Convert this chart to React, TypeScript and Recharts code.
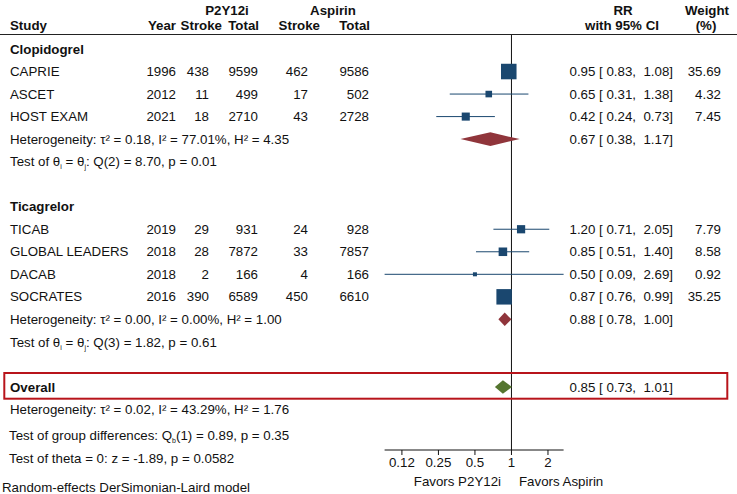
import React from "react";
import { ScatterChart, Scatter, XAxis, YAxis, ErrorBar, ReferenceLine } from "recharts";

// study level data
const STUDIES = ["CAPRIE", "ASCET", "HOST EXAM", "TICAB", "GLOBAL LEADERS", "DACAB", "SOCRATES"];
const GROUP_OF = [0, 0, 0, 1, 1, 1, 1];
const YEARS = [1996, 2012, 2021, 2019, 2018, 2018, 2016];
const P2Y12_STROKE = [438, 11, 18, 29, 28, 2, 390];
const P2Y12_TOTAL = [9599, 499, 2710, 931, 7872, 166, 6589];
const ASA_STROKE = [462, 17, 43, 24, 33, 4, 450];
const ASA_TOTAL = [9586, 502, 2728, 928, 7857, 166, 6610];
const RR = [0.95, 0.65, 0.42, 1.2, 0.85, 0.5, 0.87];
const RR_LO = [0.83, 0.31, 0.24, 0.71, 0.51, 0.09, 0.76];
const RR_HI = [1.08, 1.38, 0.73, 2.05, 1.4, 2.69, 0.99];
const WEIGHT = [35.69, 4.32, 7.45, 7.79, 8.58, 0.92, 35.25];

// subgroups
const GROUPS = ["Clopidogrel", "Ticagrelor"];
const GROUP_RR = [0.67, 0.88];
const GROUP_LO = [0.38, 0.78];
const GROUP_HI = [1.17, 1.0];
const GROUP_HET = ["τ² = 0.18, I² = 77.01%, H² = 4.35", "τ² = 0.00, I² = 0.00%, H² = 1.00"];
const GROUP_Q = ["Q(2) = 8.70, p = 0.01", "Q(3) = 1.82, p = 0.61"];

// overall
const OVERALL_RR = 0.85;
const OVERALL_LO = 0.73;
const OVERALL_HI = 1.01;
const OVERALL_HET = "τ² = 0.02, I² = 43.29%, H² = 1.76";
const GROUP_DIFF = "(1) = 0.89, p = 0.35";
const THETA_TEST = "z = -1.89, p = 0.0582";
const MODEL_NOTE = "Random-effects DerSimonian-Laird model";

const X_TICKS = [0.125, 0.25, 0.5, 1, 2];
const X_TICK_LABELS = ["0.12", "0.25", "0.5", "1", "2"];
const X_DOMAIN: [number, number] = [0.09, 2.69];

// look
const FONT = "'Liberation Sans', Arial, Helvetica, sans-serif";
const FS = 13.3;
const INK = "#111";
const NAVY = "#1a476f";
const MAROON = "#90353b";
const FOREST = "#55752f";
const BOX_RED = "#b8141b";

// layout
const W = 737;
const H = 494;
const PLOT_LEFT = 384.6;
const PLOT_RIGHT = 563.6;
const PLOT_TOP = 35;
const PLOT_BOTTOM = 450;
const FIRST_ROW_Y = 49;
const ROW_PITCH = 22.53;
const Y_DOMAIN: [number, number] = [
  (PLOT_TOP - FIRST_ROW_Y) / ROW_PITCH,
  (PLOT_BOTTOM - FIRST_ROW_Y) / ROW_PITCH,
];
const DIAMOND_HALF = 0.3; // in rows
const COL = { left: 10, year: 176, pStroke: 209, pTotal: 258, aStroke: 308, aTotal: 369, rr: 673, weight: 721 };

const f2 = (v: number) => v.toFixed(2);
const p5 = (v: number) => v.toFixed(2).padStart(5, " ");
const rrText = (e: number, lo: number, hi: number) => `${f2(e)} [${p5(lo)}, ${p5(hi)}]`;

// build the rows (y = row index from the top)
type TextRow = { x: number; y: number; kind: string; i: number };
const textRows: TextRow[] = [];
const studyPts: { x: number; y: number; w: number; err: [number, number] }[] = [];
const diamonds: { color: string; pts: { x: number; y: number }[] }[] = [];

const diamond = (y: number, e: number, lo: number, hi: number, color: string) =>
  diamonds.push({
    color,
    pts: [
      { x: lo, y },
      { x: e, y: y - DIAMOND_HALF },
      { x: hi, y },
      { x: e, y: y + DIAMOND_HALF },
    ],
  });

let r = 0;
GROUPS.forEach((_, gi) => {
  textRows.push({ x: 1, y: r++, kind: "group", i: gi });
  STUDIES.forEach((_, i) => {
    if (GROUP_OF[i] !== gi) return;
    const y = r++;
    textRows.push({ x: 1, y, kind: "study", i });
    studyPts.push({ x: RR[i], y, w: WEIGHT[i], err: [RR[i] - RR_LO[i], RR_HI[i] - RR[i]] });
  });
  const hy = r++;
  textRows.push({ x: 1, y: hy, kind: "het", i: gi });
  diamond(hy, GROUP_RR[gi], GROUP_LO[gi], GROUP_HI[gi], MAROON);
  textRows.push({ x: 1, y: r++, kind: "test", i: gi });
  r++; // blank row
});
const overallY = r++;
textRows.push({ x: 1, y: overallY, kind: "overall", i: 0 });
diamond(overallY, OVERALL_RR, OVERALL_LO, OVERALL_HI, FOREST);
textRows.push({ x: 1, y: r++, kind: "overallHet", i: 0 });

const txt = { fontFamily: FONT, fontSize: FS, fill: INK, style: { whiteSpace: "pre" as const } };

function RowText(props: any) {
  const { cy, payload: p } = props;
  const T = (x: number, s: React.ReactNode, anchor = "start", bold = false) => (
    <text x={x} y={cy} dy="0.35em" textAnchor={anchor} fontWeight={bold ? "bold" : "normal"} {...txt}>
      {s}
    </text>
  );
  if (p.kind === "group") return <g>{T(COL.left, GROUPS[p.i], "start", true)}</g>;
  if (p.kind === "overall")
    return (
      <g>
        {T(COL.left, "Overall", "start", true)}
        {T(COL.rr, rrText(OVERALL_RR, OVERALL_LO, OVERALL_HI), "end")}
      </g>
    );
  if (p.kind === "overallHet") return <g>{T(COL.left, `Heterogeneity: ${OVERALL_HET}`)}</g>;
  if (p.kind === "het")
    return (
      <g>
        {T(COL.left, `Heterogeneity: ${GROUP_HET[p.i]}`)}
        {T(COL.rr, rrText(GROUP_RR[p.i], GROUP_LO[p.i], GROUP_HI[p.i]), "end")}
      </g>
    );
  if (p.kind === "test")
    return (
      <g>
        <text x={COL.left} y={cy} dy="0.35em" {...txt}>
          Test of θ<tspan fontSize={7} dy={3}>i</tspan>
          <tspan dy={-3}> = θ</tspan>
          <tspan fontSize={7} dy={3}>j</tspan>
          <tspan dy={-3}>{`: ${GROUP_Q[p.i]}`}</tspan>
        </text>
      </g>
    );
  const i = p.i;
  return (
    <g>
      {T(COL.left, STUDIES[i])}
      {T(COL.year, String(YEARS[i]), "end")}
      {T(COL.pStroke, String(P2Y12_STROKE[i]), "end")}
      {T(COL.pTotal, String(P2Y12_TOTAL[i]), "end")}
      {T(COL.aStroke, String(ASA_STROKE[i]), "end")}
      {T(COL.aTotal, String(ASA_TOTAL[i]), "end")}
      {T(COL.rr, rrText(RR[i], RR_LO[i], RR_HI[i]), "end")}
      {T(COL.weight, f2(WEIGHT[i]), "end")}
    </g>
  );
}

function StudySquare(props: any) {
  const { cx, cy, payload } = props;
  const s = 2.3 * Math.sqrt(payload.w) + 1.8;
  return <rect x={cx - s / 2} y={cy - s / 2} width={s} height={s} fill={NAVY} />;
}

const Nothing = () => <g />;

export default function App() {
  return (
    <div style={{ position: "relative", width: W, height: H }}>
      <style>{"body{margin:0}"}</style>
      <ScatterChart
        width={W}
        height={H}
        margin={{ top: PLOT_TOP, right: W - PLOT_RIGHT, bottom: 0, left: PLOT_LEFT }}
      >
        <XAxis
          type="number"
          dataKey="x"
          scale="log"
          domain={X_DOMAIN}
          ticks={X_TICKS}
          interval={0}
          tickFormatter={(v: number) => X_TICK_LABELS[X_TICKS.indexOf(v)]}
          height={H - PLOT_BOTTOM}
          tickSize={5}
          tickMargin={3}
          stroke={INK}
          tick={{ fill: INK, fontSize: FS, fontFamily: FONT }}
        />
        <YAxis type="number" dataKey="y" domain={Y_DOMAIN} reversed hide />
        <ReferenceLine x={1} stroke={INK} strokeWidth={1} />
        {diamonds.map((d, k) => (
          <Scatter
            key={k}
            data={d.pts}
            isAnimationActive={false}
            shape={Nothing}
            lineType="joint"
            line={(lp: any) => (
              <polygon points={lp.points.map((q: any) => `${q.x},${q.y}`).join(" ")} fill={d.color} />
            )}
          />
        ))}
        <Scatter data={studyPts} isAnimationActive={false} shape={StudySquare} fill={NAVY}>
          <ErrorBar dataKey="err" direction="x" width={0} stroke={NAVY} strokeWidth={1} />
        </Scatter>
        <Scatter data={textRows} isAnimationActive={false} shape={RowText} />
      </ScatterChart>

      <svg
        width={W}
        height={H}
        style={{ position: "absolute", left: 0, top: 0, pointerEvents: "none" }}
        fontFamily={FONT}
        fontSize={FS}
        fill={INK}
      >
        <g fontWeight="bold">
          <text x={227} y={10} dy="0.35em" textAnchor="middle">P2Y12i</text>
          <text x={333} y={10} dy="0.35em" textAnchor="middle">Aspirin</text>
          <text x={623} y={10} dy="0.35em" textAnchor="middle">RR</text>
          <text x={707} y={10} dy="0.35em" textAnchor="middle">Weight</text>
          <text x={COL.left} y={25} dy="0.35em">Study</text>
          <text x={176} y={25} dy="0.35em" textAnchor="end">Year</text>
          <text x={222} y={25} dy="0.35em" textAnchor="end">Stroke</text>
          <text x={259} y={25} dy="0.35em" textAnchor="end">Total</text>
          <text x={320} y={25} dy="0.35em" textAnchor="end">Stroke</text>
          <text x={370} y={25} dy="0.35em" textAnchor="end">Total</text>
          <text x={622} y={25} dy="0.35em" textAnchor="middle">with 95% CI</text>
          <text x={706} y={25} dy="0.35em" textAnchor="middle">(%)</text>
        </g>
        <line x1={0} x2={W} y1={34.5} y2={34.5} stroke="#222" strokeWidth={1} />

        <rect x={4.3} y={373} width={723} height={25.7} fill="none" stroke={BOX_RED} strokeWidth={2} />

        <text x={9} y={435} dy="0.35em">
          Test of group differences: Q<tspan fontSize={7} dy={3}>b</tspan>
          <tspan dy={-3}>{GROUP_DIFF}</tspan>
        </text>
        <text x={9} y={458} dy="0.35em">{`Test of theta = 0: ${THETA_TEST}`}</text>
        <text x={2} y={487} dy="0.35em">{MODEL_NOTE}</text>

        <text x={501} y={481} dy="0.35em" textAnchor="end">Favors P2Y12i</text>
        <text x={519} y={481} dy="0.35em">Favors Aspirin</text>
      </svg>
    </div>
  );
}
